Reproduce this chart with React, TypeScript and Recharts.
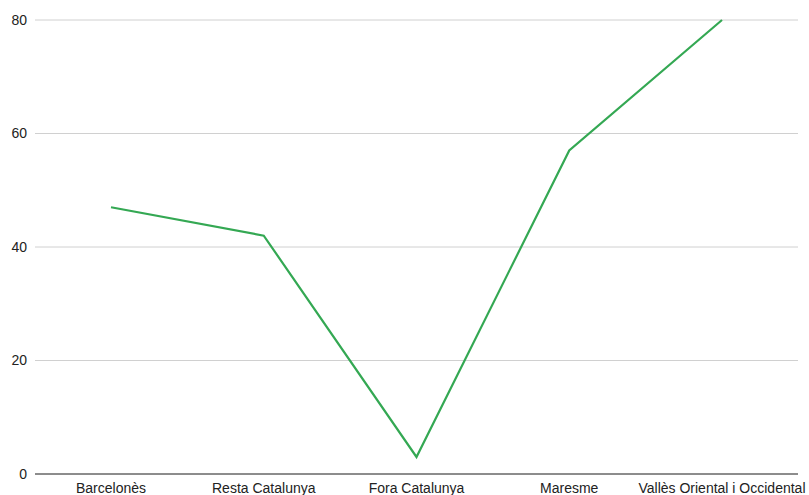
import React from "react";
import { LineChart, Line, XAxis, YAxis, CartesianGrid } from "recharts";

const categories = ["Barcelonès", "Resta Catalunya", "Fora Catalunya", "Maresme", "Vallès Oriental i Occidental"];
const values = [47, 42, 3, 57, 80];
const yTicks = [0, 20, 40, 60, 80];

const data = categories.map((name, i) => ({ name, value: values[i] }));

export default function App() {
  return (
    <div style={{ position: "absolute", left: 0, top: 0, width: 809, height: 495, background: "#fff", fontFamily: "'Liberation Sans', Arial, sans-serif" }}>
      <LineChart width={809} height={495} data={data} margin={{ top: 20, right: 11, left: 0, bottom: 0 }}>
        <CartesianGrid vertical={false} stroke="#d0d0d0" strokeWidth={1} />
        <XAxis
          dataKey="name"
          tickLine={false}
          axisLine={{ stroke: "#333", strokeWidth: 1 }}
          tick={{ fill: "#222", fontSize: 14 }}
          height={21}
          interval={0}
          padding={{ left: 76, right: 76 }}
          tickMargin={3}
        />
        <YAxis
          domain={[0, 80]}
          ticks={yTicks}
          width={35}
          axisLine={false}
          tickLine={false}
          tick={{ fill: "#222", fontSize: 14 }}
        />
        <Line type="linear" dataKey="value" stroke="#34a853" strokeWidth={2.2} dot={false} isAnimationActive={false} />
      </LineChart>
    </div>
  );
}
